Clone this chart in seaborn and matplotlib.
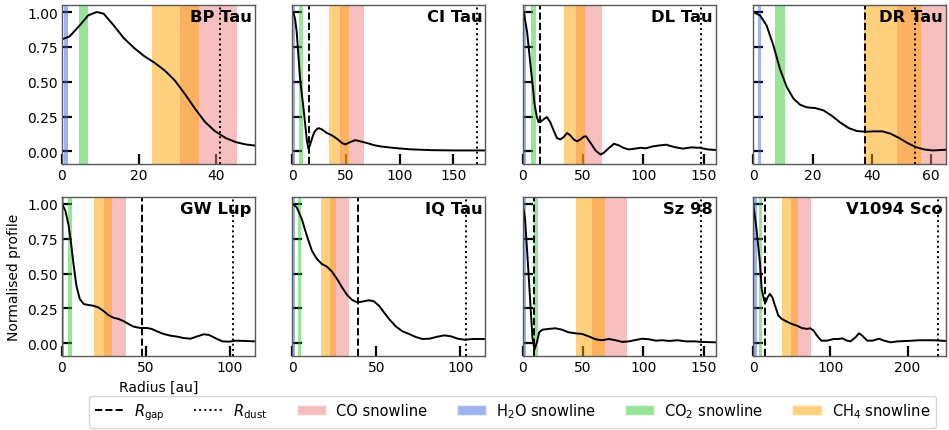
import numpy as np
import pandas as pd
import matplotlib
matplotlib.use("Agg")
import matplotlib.pyplot as plt
import seaborn as sns
from matplotlib.lines import Line2D
from matplotlib.patches import Patch

# ---------------- data ----------------
DISKS = ["BP Tau", "CI Tau", "DL Tau", "DR Tau", "GW Lup", "IQ Tau", "Sz 98", "V1094 Sco"]

BP_TAU_R = [0, 2, 4.6, 6.8, 9, 10.8, 13.4, 16, 18.7, 21.3, 24, 26.6, 29.2, 31.8, 34.5, 37.1, 39.7, 42.4, 45, 47.6, 50.3]
BP_TAU_I = [0.804, 0.825, 0.904, 0.976, 1.0, 0.988, 0.904, 0.813, 0.742, 0.684, 0.636, 0.581, 0.51, 0.414, 0.306, 0.21, 0.144, 0.096, 0.067, 0.05, 0.041]

CI_TAU_R = [0, 0.9, 2.5, 4, 5.5, 7.2, 9, 10.5, 12, 13.5, 15, 16.2, 17.5, 19, 20.6, 22.5, 24.4, 27.5, 32.2, 36.9, 41.6, 46.3, 49.4, 54, 58.8, 63.4, 69.7, 76, 82.2, 90, 96, 110, 130, 150, 180]
CI_TAU_I = [1.0, 1.0, 0.95, 0.86, 0.7, 0.52, 0.4, 0.3, 0.19, 0.08, 0.019, 0.04, 0.072, 0.11, 0.139, 0.158, 0.167, 0.158, 0.132, 0.115, 0.091, 0.06, 0.05, 0.067, 0.081, 0.072, 0.06, 0.045, 0.036, 0.029, 0.024, 0.015, 0.009, 0.007, 0.007]

DL_TAU_R = [0, 0.8, 3.6, 6.4, 8.5, 9.7, 11.7, 13.1, 14.4, 17.2, 20, 22.8, 25.6, 28.3, 31.1, 33.9, 36.7, 39.4, 42.2, 45, 47.8, 50.6, 52.5, 56.1, 60.3, 64.4, 67.2, 71.4, 75.6, 79.7, 83.9, 88, 92.2, 97.8, 101.9, 107.8, 113.3, 118.9, 125.8, 132.8, 139.7, 146.7, 153.6, 160.6]
DL_TAU_I = [1.0, 1.0, 0.856, 0.617, 0.45, 0.342, 0.246, 0.21, 0.21, 0.23, 0.246, 0.21, 0.15, 0.096, 0.086, 0.103, 0.132, 0.115, 0.086, 0.072, 0.086, 0.106, 0.108, 0.062, 0.007, -0.022, -0.01, 0.024, 0.055, 0.043, 0.024, 0.014, 0.019, 0.026, 0.022, 0.036, 0.043, 0.048, 0.031, 0.02, 0.029, 0.026, 0.014, 0.01]

DR_TAU_R = [0, 2.3, 4.5, 6.8, 9, 11.3, 13.6, 15.8, 18.1, 20.9, 23.7, 26.6, 29.4, 32.2, 35, 37.9, 40.7, 43.5, 46.3, 49.2, 52, 54.8, 57.6, 60.5, 65]
DR_TAU_I = [1.0, 0.976, 0.904, 0.761, 0.593, 0.462, 0.378, 0.335, 0.316, 0.311, 0.294, 0.254, 0.206, 0.167, 0.146, 0.141, 0.144, 0.144, 0.127, 0.096, 0.06, 0.031, 0.014, 0.007, 0.012]

GW_LUP_R = [0, 2, 4, 5.6, 7, 8.6, 10.6, 13, 15.6, 18.6, 21.6, 24.6, 27.6, 30.6, 33.6, 36.6, 39.6, 42.6, 46.6, 50.6, 53.6, 56.6, 60.6, 64.6, 68.6, 72.6, 76.6, 80.6, 84.6, 87.6, 91.6, 95.6, 99.6, 103.6, 108.6, 115]
GW_LUP_I = [1.0, 0.952, 0.844, 0.7, 0.557, 0.414, 0.318, 0.282, 0.275, 0.27, 0.258, 0.234, 0.203, 0.184, 0.175, 0.16, 0.139, 0.12, 0.11, 0.11, 0.103, 0.086, 0.067, 0.055, 0.048, 0.038, 0.033, 0.05, 0.065, 0.06, 0.036, 0.014, 0.012, 0.019, 0.017, 0.014]

IQ_TAU_R = [0, 2.6, 5.6, 8.6, 11.6, 14.6, 17.6, 20.6, 23.6, 26.6, 29.6, 32.6, 35.6, 38.6, 41.6, 45.6, 48.6, 51.6, 54.6, 57.6, 61.6, 65.6, 69.6, 73.6, 77.6, 81.6, 86.6, 90.6, 94.6, 98.6, 102.6, 107.6, 115]
IQ_TAU_I = [1.0, 0.976, 0.892, 0.773, 0.665, 0.605, 0.569, 0.55, 0.514, 0.462, 0.402, 0.347, 0.311, 0.294, 0.299, 0.309, 0.301, 0.27, 0.222, 0.175, 0.122, 0.086, 0.067, 0.045, 0.031, 0.033, 0.048, 0.057, 0.05, 0.033, 0.026, 0.031, 0.031]

SZ_98_R = [0, 1.9, 4.2, 6.4, 8.1, 9.7, 11.7, 13.6, 16.4, 21.4, 26.9, 32.5, 38, 43.6, 49.2, 54.7, 60.3, 65.8, 71.4, 76.9, 82.5, 88, 93.6, 99.2, 104.7, 110.3, 115.8, 121.4, 128.3, 135.3, 142.2, 149.2, 160.3]
SZ_98_I = [1.0, 0.89, 0.58, 0.27, 0.031, -0.045, 0.007, 0.079, 0.098, 0.103, 0.108, 0.098, 0.079, 0.072, 0.067, 0.05, 0.029, 0.022, 0.031, 0.022, 0.01, 0.014, 0.024, 0.033, 0.029, 0.019, 0.022, 0.017, 0.022, 0.014, 0.014, 0.01, 0.007]

V1094_SCO_R = [0, 4.3, 8.7, 11, 14.3, 16.1, 18.7, 21.7, 24.8, 28.3, 32.6, 37, 43.5, 50, 56.5, 63, 69.6, 73.9, 78.3, 82.6, 88.3, 95.7, 104.3, 110.9, 115.2, 121.7, 126, 132.6, 137, 141.3, 147.8, 154.3, 163, 169.6, 178.3, 187, 200, 215.2, 232.6, 250]
V1094_SCO_I = [1.0, 0.82, 0.581, 0.39, 0.306, 0.294, 0.33, 0.354, 0.33, 0.27, 0.199, 0.175, 0.156, 0.139, 0.127, 0.11, 0.103, 0.108, 0.091, 0.055, 0.019, 0.019, 0.031, 0.031, 0.036, 0.019, 0.014, 0.043, 0.072, 0.055, 0.019, 0.019, 0.033, 0.019, 0.007, 0.014, 0.017, 0.022, 0.022, 0.017]

RADII = [BP_TAU_R, CI_TAU_R, DL_TAU_R, DR_TAU_R, GW_LUP_R, IQ_TAU_R, SZ_98_R, V1094_SCO_R]
PROFILES = [BP_TAU_I, CI_TAU_I, DL_TAU_I, DR_TAU_I, GW_LUP_I, IQ_TAU_I, SZ_98_I, V1094_SCO_I]

# snowline bands (au) in disk order
H2O_LO = [0.5, 0.0, 0.0, 1.5, 0.0, 0.0, 1.1, 0.0]
H2O_HI = [1.5, 2.2, 2.8, 2.5, 1.2, 1.6, 3.0, 4.8]
CO2_LO = [4.5, 6.6, 6.9, 7.3, 3.6, 3.6, 9.4, 7.0]
CO2_HI = [6.8, 10.3, 10.6, 10.7, 5.8, 5.0, 13.0, 11.3]
CH4_LO = [23.4, 34.0, 33.9, 37.3, 19.2, 17.2, 44.4, 37.4]
CH4_HI = [35.4, 52.5, 51.7, 56.5, 30.0, 26.2, 67.8, 58.7]
CO_LO = [30.6, 44.7, 43.9, 48.6, 25.0, 22.4, 57.8, 49.1]
CO_HI = [45.3, 67.2, 66.1, 66.0, 38.0, 33.6, 86.1, 74.8]

R_GAP = [None, 15.3, 14.2, 37.6, 47.6, 39.4, 9.4, 15.7]
R_DUST = [41.0, 172.5, 148.0, 54.6, 102.2, 103.4, 147.8, 239.6]
X_MAX = [50, 180, 160, 65, 115, 115, 160, 250]
X_TICKS = [[0, 20, 40], [0, 50, 100, 150], [0, 50, 100, 150], [0, 20, 40, 60],
           [0, 50, 100], [0, 50, 100], [0, 50, 100, 150], [0, 100, 200]]
Y_TICKS = [0.0, 0.25, 0.5, 0.75, 1.0]

# ---------------- style ----------------
sns.set_theme(style="white")
plt.rcParams["font.family"] = ["DejaVu Sans"]
plt.rcParams["axes.edgecolor"] = "0.35"
plt.rcParams["axes.linewidth"] = 1.0
for key in ["text.color", "axes.labelcolor", "xtick.color", "ytick.color"]:
    plt.rcParams[key] = "black"

C_CO = "lightcoral"
C_H2O = "royalblue"
C_CO2 = "limegreen"
C_CH4 = "orange"
ALPHA = 0.5

fig, axes = plt.subplots(2, 4, figsize=(9.49, 4.31), dpi=100, sharey=True)
fig.subplots_adjust(left=0.0653, right=0.997, top=0.986, bottom=0.172,
                    wspace=0.194, hspace=0.2075)

for i, ax in enumerate(axes.flat):
    ax.axvspan(CO_LO[i], CO_HI[i], color=C_CO, alpha=ALPHA, lw=0)
    ax.axvspan(H2O_LO[i], H2O_HI[i], color=C_H2O, alpha=ALPHA, lw=0)
    ax.axvspan(CO2_LO[i], CO2_HI[i], color=C_CO2, alpha=ALPHA, lw=0)
    ax.axvspan(CH4_LO[i], CH4_HI[i], color=C_CH4, alpha=ALPHA, lw=0)
    df = pd.DataFrame({"r": RADII[i], "I": PROFILES[i]})
    sns.lineplot(data=df, x="r", y="I", color="black", lw=1.4, ax=ax)
    if R_GAP[i] is not None:
        ax.axvline(R_GAP[i], color="black", ls="--", lw=1.4)
    ax.axvline(R_DUST[i], color="black", ls=":", lw=1.4)
    ax.set_xlim(0, X_MAX[i])
    ax.set_ylim(-0.09, 1.05)
    ax.set_xticks(X_TICKS[i])
    ax.set_yticks(Y_TICKS)
    ax.tick_params(direction="in", length=7, width=1.6, color="black",
                   labelsize=10, pad=3, left=True, bottom=True)
    ax.text(0.984, 0.975, DISKS[i], transform=ax.transAxes, ha="right", va="top",
            fontsize=11.8, fontweight="bold")
    ax.set_xlabel("")
    ax.set_ylabel("")

axes[1, 0].set_xlabel("Radius [au]", fontsize=10)
axes[1, 0].set_ylabel("Normalised profile", fontsize=10)

handles = [
    Line2D([], [], color="black", ls="--", lw=1.4),
    Line2D([], [], color="black", ls=":", lw=1.4),
    Patch(facecolor=C_CO, alpha=ALPHA),
    Patch(facecolor=C_H2O, alpha=ALPHA),
    Patch(facecolor=C_CO2, alpha=ALPHA),
    Patch(facecolor=C_CH4, alpha=ALPHA),
]
labels = [r"$R_{\rm gap}$", r"$R_{\rm dust}$", "CO snowline", r"H$_2$O snowline",
          r"CO$_2$ snowline", r"CH$_4$ snowline"]
fig.legend(handles, labels, loc="lower center", bbox_to_anchor=(0.540, -0.012),
           ncol=6, fontsize=10.5, frameon=True, handlelength=2.0,
           handletextpad=0.7, columnspacing=2.0, borderpad=0.4)

fig.savefig("out.png", dpi=100)
